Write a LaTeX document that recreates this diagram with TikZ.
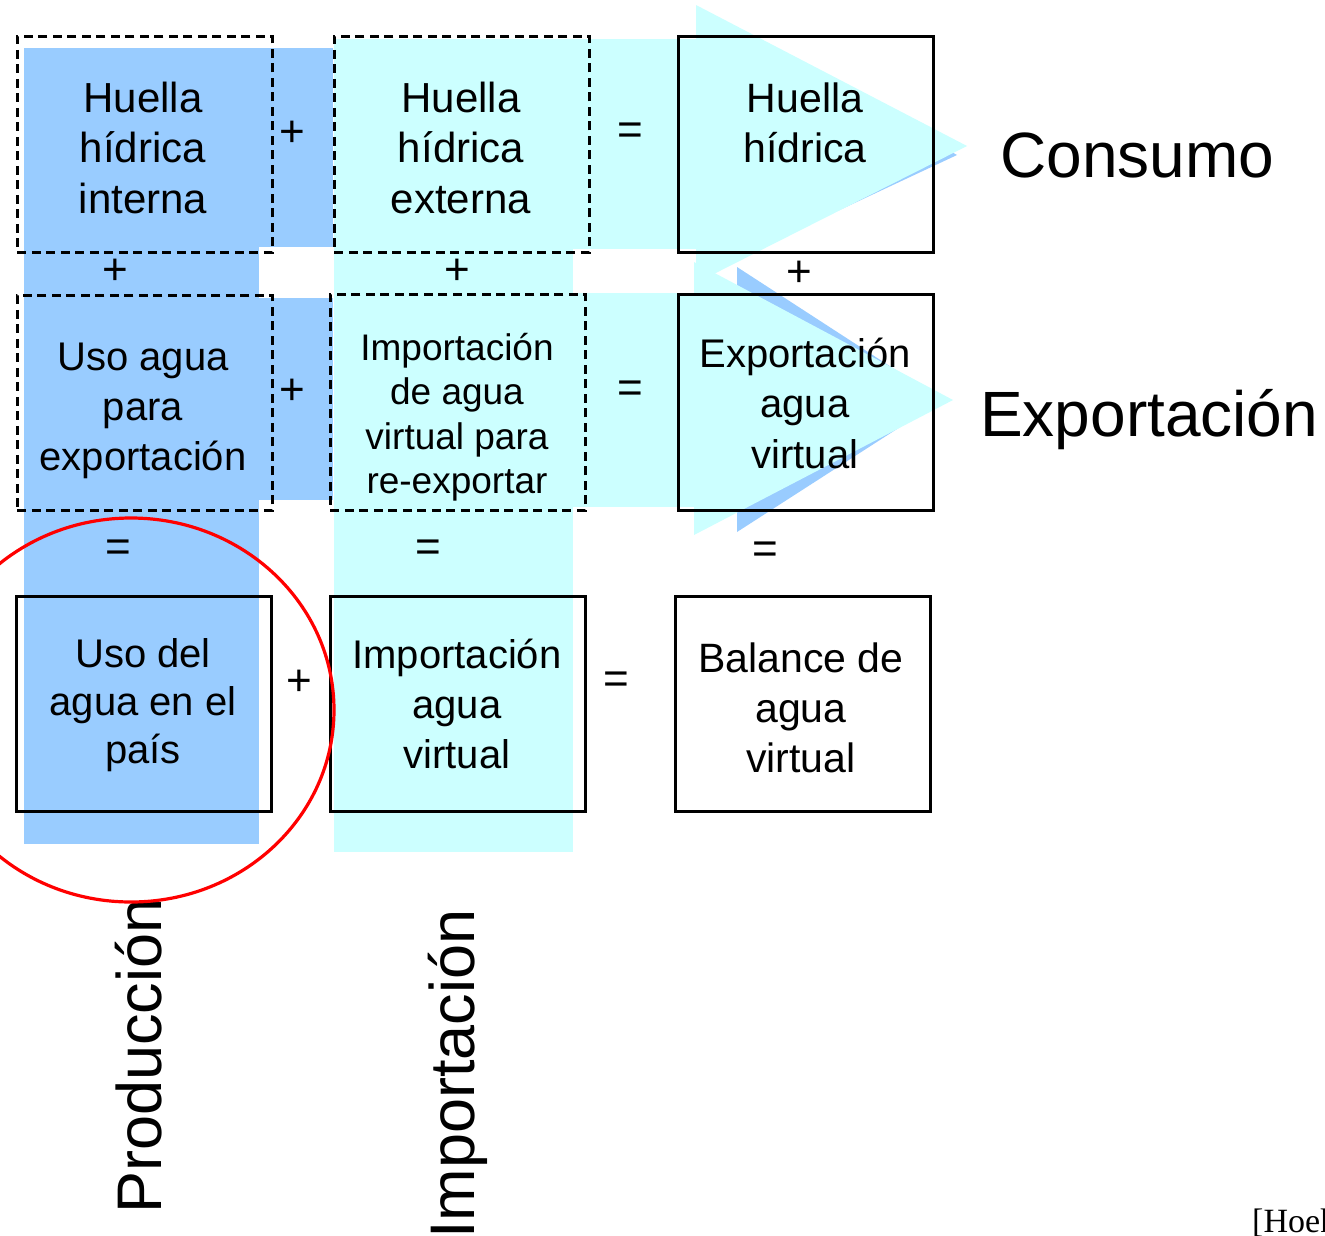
\documentclass[tikz,border=0pt]{standalone}
\usepackage{fontspec}
\setmainfont{Liberation Sans}
\newfontfamily\hoekfont{Liberation Serif}
\definecolor{pblue}{HTML}{99CCFF}
\definecolor{pcyan}{HTML}{CCFFFF}
\newcommand\fsz[2]{\fontsize{#1}{#2}\selectfont}
\begin{document}
\begin{tikzpicture}[x=1pt,y=-1pt,
  dbox/.style={draw=black, line width=2.6pt, dash pattern=on 9pt off 5.5pt, inner sep=0pt, anchor=north west},
  sbox/.style={draw=black, line width=2.5pt, inner sep=0pt, anchor=north west},
  lbl/.style={align=center, anchor=base, inner sep=0pt},
  op/.style={inner sep=0pt, font=\fsz{44}{52}},
  big/.style={inner sep=0pt, font=\fsz{64}{76}},
]
\useasboundingbox (0,0) rectangle (1325,1235);
\clip (0,0) rectangle (1325,1235);
\fill[white] (0,0) rectangle (1325,1235);
% blue background shapes
\fill[pblue] (24,48) rectangle (259,844);
\fill[pblue] (24,48) rectangle (333,247);
\fill[pblue] (24,298) rectangle (333,500);
\fill[pblue] (737,30) -- (957,155) -- (737,258) -- cycle;
\fill[pblue] (737,267) -- (942,400) -- (737,532) -- cycle;
% cyan background shapes
\fill[pcyan] (334,39) rectangle (573,852);
\fill[pcyan] (334,39) rectangle (697,249);
\fill[pcyan] (696,5) -- (967,146) -- (696,283) -- cycle;
\fill[pcyan] (334,293) rectangle (695,507);
\fill[pcyan] (694,262) -- (953,400) -- (694,535) -- cycle;
% boxes
\node[dbox, minimum width=255pt, minimum height=216pt] (A) at (16,35) {};
\node[dbox, minimum width=255pt, minimum height=216pt] (B) at (333,35) {};
\node[sbox, minimum width=255pt, minimum height=216pt] (E) at (677,35) {};
\node[dbox, minimum width=255pt, minimum height=215pt] (C) at (16,294) {};
\node[dbox, minimum width=255pt, minimum height=216pt] (D) at (329,293) {};
\node[sbox, minimum width=255pt, minimum height=216pt] (F) at (677,293) {};
\node[sbox, minimum width=255pt, minimum height=215pt] (G) at (15,595) {};
\node[sbox, minimum width=255pt, minimum height=215pt] (H) at (329,595) {};
\node[sbox, minimum width=255pt, minimum height=215pt] (I) at (674,595) {};
% box texts (anchor = baseline of last line)
\node[lbl, font=\fsz{42}{50.5}] (tA) at (143,213) {Huella\\hídrica\\interna};
\node[lbl, font=\fsz{42}{50.5}] (tB) at (461,213) {Huella\\hídrica\\externa};
\node[lbl, font=\fsz{41}{50.5}] (tE) at (805,162.5) {Huella\\hídrica};
\node[lbl, font=\fsz{40}{50}] (tC) at (143,470) {Uso agua\\para\\exportación};
\node[lbl, font=\fsz{37}{44.5}] (tD) at (457,493.5) {Importación\\de agua\\virtual para\\re-exportar};
\node[lbl, font=\fsz{40}{50.5}] (tF) at (805,468) {Exportación\\agua\\virtual};
\node[lbl, font=\fsz{40}{48}] (tG) at (143,763) {Uso del\\agua en el\\país};
\node[lbl, font=\fsz{40}{50}] (tH) at (457,768) {Importación\\agua\\virtual};
\node[lbl, font=\fsz{41}{50}] (tI) at (801,772) {Balance de\\agua\\virtual};
% operators
\node[op] (o1) at (292,133.5) {+};
\node[op] (o2) at (630.5,134) {=};
\node[op] (o3) at (115.5,272) {+};
\node[op] (o4) at (457,272) {+};
\node[op] (o5) at (799,273.5) {+};
\node[op] (o6) at (292,391.5) {+};
\node[op] (o7) at (630.5,392) {=};
\node[op] (o8) at (118,550.5) {=};
\node[op] (o9) at (428,550.5) {=};
\node[op] (o10) at (765.5,552.5) {=};
\node[op] (o11) at (299,682.5) {+};
\node[op] (o12) at (616,682.5) {=};
% side labels
\node[big, anchor=base west] (cons) at (1000,177) {Consumo};
\node[big, anchor=base west] (expo) at (980,436) {Exportación};
\node[big, anchor=base west, rotate=90, font=\fsz{63}{75}] (prod) at (161,1214) {Producción};
\node[big, anchor=base west, rotate=90, font=\fsz{63}{75}] (impo) at (474,1239) {Importación};
\node[anchor=base west, inner sep=0pt, font=\hoekfont\fsz{34}{40}] (hoek) at (1252,1232) {[Hoek};
% red circle
\draw[red, line width=3.2pt] (131,710) ellipse [x radius=203pt, y radius=192pt];
\end{tikzpicture}
\end{document}
